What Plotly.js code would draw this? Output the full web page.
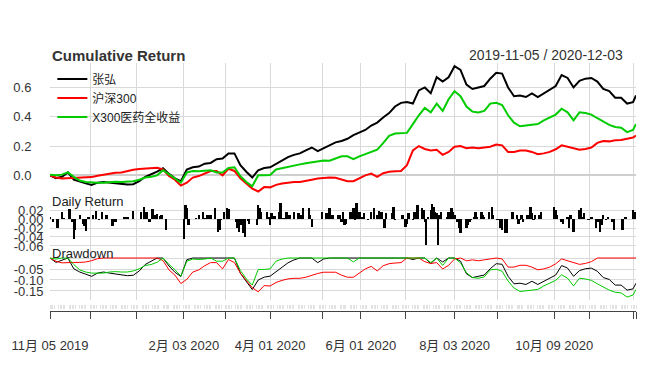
<!DOCTYPE html>
<html><head><meta charset="utf-8">
<script src="https://cdn.plot.ly/plotly-3.0.1.min.js"></script>
<style>html,body{margin:0;padding:0;background:#fff}#chart{width:651px;height:375px}</style>
</head><body><div id="chart"></div>
<script>
const startDate = '2019-11-05';
const endDate = '2020-12-03';
const sampleStepDays = 4;
const lastDay = 394;
const seriesNames = ['张弘', '沪深300', 'X300医药全收益'];
const seriesColors = ['#000000', '#ff0000', '#00cc00'];

// cumulative returns, sampled every 4 calendar days (last sample = 2020-12-03)
const cumZhangHong = [
  0.000, -0.020, -0.010, 0.020, -0.030, -0.045, -0.055, -0.065, -0.050, -0.045,
  -0.050, -0.055, -0.060, -0.062, -0.060, -0.040, -0.010, 0.005, 0.025, 0.048,
  0.010, -0.020, -0.040, 0.040, 0.055, 0.060, 0.080, 0.085, 0.110, 0.115,
  0.150, 0.150, 0.070, 0.025, -0.015, 0.035, 0.050, 0.055, 0.080, 0.100,
  0.125, 0.140, 0.150, 0.170, 0.190, 0.165, 0.185, 0.200, 0.225, 0.235,
  0.250, 0.275, 0.290, 0.310, 0.340, 0.360, 0.395, 0.425, 0.470, 0.495,
  0.500, 0.490, 0.580, 0.600, 0.560, 0.670, 0.640, 0.670, 0.745, 0.720,
  0.620, 0.590, 0.600, 0.610, 0.660, 0.700, 0.695, 0.600, 0.540, 0.545,
  0.535, 0.560, 0.535, 0.560, 0.590, 0.610, 0.685, 0.665, 0.600, 0.645,
  0.660, 0.665, 0.640, 0.590, 0.575, 0.530, 0.530, 0.490, 0.500, 0.545
];
const cumHS300 = [
  0.000, -0.015, -0.022, -0.020, -0.020, -0.020, -0.018, -0.012, -0.003, 0.005,
  0.012, 0.018, 0.020, 0.030, 0.038, 0.043, 0.045, 0.048, 0.052, 0.040,
  -0.005, -0.030, -0.070, -0.050, -0.015, -0.005, 0.015, 0.030, 0.030, 0.000,
  0.045, 0.030, -0.020, -0.055, -0.090, -0.110, -0.080, -0.082, -0.065, -0.055,
  -0.048, -0.045, -0.045, -0.040, -0.030, -0.022, -0.016, -0.015, -0.016, -0.030,
  -0.040, -0.040, -0.020, 0.000, 0.012, -0.010, 0.015, 0.025, 0.028, 0.030,
  0.070, 0.170, 0.200, 0.180, 0.170, 0.175, 0.140, 0.160, 0.195, 0.200,
  0.185, 0.190, 0.185, 0.190, 0.196, 0.210, 0.205, 0.160, 0.160, 0.170,
  0.170, 0.160, 0.145, 0.150, 0.160, 0.178, 0.205, 0.195, 0.185, 0.175,
  0.180, 0.190, 0.222, 0.235, 0.232, 0.240, 0.242, 0.250, 0.258, 0.272
];
const cumPharma = [
  0.005, 0.000, 0.005, 0.020, -0.010, -0.035, -0.045, -0.050, -0.050, -0.050,
  -0.045, -0.043, -0.045, -0.045, -0.040, -0.030, -0.015, -0.010, 0.000, 0.035,
  0.005, -0.020, -0.050, 0.020, 0.030, 0.028, 0.030, 0.035, 0.020, 0.020,
  0.050, 0.055, -0.005, -0.045, -0.075, 0.000, 0.000, 0.003, 0.040, 0.050,
  0.060, 0.070, 0.075, 0.082, 0.088, 0.093, 0.102, 0.100, 0.115, 0.130,
  0.130, 0.110, 0.130, 0.145, 0.155, 0.175, 0.220, 0.270, 0.285, 0.290,
  0.290, 0.350, 0.410, 0.460, 0.430, 0.490, 0.440, 0.520, 0.575, 0.540,
  0.470, 0.435, 0.430, 0.440, 0.490, 0.495, 0.480, 0.410, 0.360, 0.335,
  0.340, 0.345, 0.350, 0.375, 0.395, 0.415, 0.455, 0.430, 0.375, 0.430,
  0.425, 0.415, 0.390, 0.365, 0.345, 0.330, 0.325, 0.295, 0.310, 0.350
];

// daily returns of 张弘 (visible bars), day offset from start date
const retDay = [
  0, 2, 5, 8, 9, 13, 15, 16, 17, 20, 22, 23, 24, 26, 29, 31, 33, 35, 38, 42, 44, 48, 50, 52, 56, 61, 63, 65, 67, 69, 71, 72, 74, 75, 78, 90, 91, 92, 93,
  98, 100, 103, 104, 106, 107, 108, 111, 113, 114, 115, 117, 119, 120, 121, 125, 126, 127, 128, 130, 131, 133, 134, 139, 140, 141, 142, 146, 147, 148, 149, 151, 154, 155, 156, 157, 159, 161, 164, 165, 167, 168, 169, 170, 171, 174, 175, 176, 183, 184, 186, 188, 189, 190, 194,
  195, 196, 197, 198, 199, 202, 203, 204, 205, 206, 207, 208, 210, 211, 212, 214, 216, 217, 218, 220, 221, 223, 224, 225, 226, 229, 230, 231, 232, 236, 237, 239, 240, 241, 244, 245, 247, 248, 250, 251, 252, 253, 254, 256, 257, 258, 259, 260, 261, 262, 263, 265, 267, 268, 269, 270, 271, 272, 274, 275, 276, 280, 281, 282, 283, 285, 286, 287, 288, 290, 291,
  292, 293, 295, 297, 298, 301, 303, 304, 306, 307, 311, 312, 314, 315, 316, 317, 318, 321, 323, 324, 325, 326, 329, 330, 339, 340, 341, 342, 344, 345, 348, 349, 350, 352, 355, 356, 357, 358, 359, 362, 364, 367, 368, 370, 371, 372, 374, 375, 378, 379, 380, 383, 385, 387, 392, 393
];
const retVal = [
  0.005, -0.006, -0.021, 0.016, 0.003, 0.022, -0.006, -0.044, -0.024, 0.009, -0.010, -0.015, -0.027, 0.005, 0.010, 0.018, -0.002, 0.016, 0.010, -0.015, -0.006, 0.001, 0.005, 0.004, 0.018, 0.016, 0.027, 0.016, -0.006, 0.022, 0.009, 0.012, 0.007, 0.010, -0.025, -0.044, 0.031, 0.024, -0.013,
  0.003, 0.009, 0.016, 0.003, 0.010, 0.001, 0.009, 0.024, -0.028, -0.024, -0.002, 0.016, 0.025, 0.022, 0.001, -0.006, -0.021, -0.028, -0.013, -0.032, -0.039, -0.005, -0.010, -0.013, 0.031, 0.024, 0.015, 0.015, 0.005, -0.013, 0.013, 0.007, 0.016, 0.035, 0.001, 0.003, 0.016, 0.010, 0.016, 0.001, 0.013, 0.001, 0.009, 0.024, -0.001, 0.024, 0.009, -0.017, 0.016, 0.001, 0.013, 0.024, 0.001, 0.009, 0.009,
  0.010, -0.006, 0.016, -0.013, -0.010, 0.016, 0.001, 0.024, -0.002, 0.035, 0.001, 0.016, 0.005, 0.013, 0.001, -0.002, 0.016, 0.001, 0.024, 0.009, 0.018, 0.016, 0.001, -0.021, 0.013, 0.001, 0.013, 0.027, -0.002, 0.001, 0.009, -0.017, -0.010, 0.013, -0.002, 0.016, 0.031, 0.001, 0.024, 0.020, -0.006, -0.058, 0.005, 0.020, 0.033, 0.027, 0.016, 0.013, -0.058, 0.009, 0.016, 0.001, 0.005, 0.016, 0.001, 0.024, 0.016, 0.009, -0.006, -0.021, -0.032, -0.021, -0.013, -0.006, -0.002, 0.005, 0.016, 0.005, 0.001, 0.016, 0.009,
  0.005, 0.001, 0.016, 0.027, 0.009, -0.002, -0.021, -0.024, -0.032, -0.032, 0.016, 0.001, 0.009, -0.010, -0.002, 0.009, -0.006, 0.009, 0.027, 0.013, -0.002, 0.009, 0.009, 0.016, 0.027, 0.020, 0.009, 0.001, -0.006, -0.010, 0.005, -0.021, 0.009, -0.028, 0.001, 0.020, 0.024, 0.005, 0.013, -0.002, 0.005, -0.021, -0.006, -0.028, -0.013, 0.009, -0.002, 0.005, -0.006, -0.024, 0.001, 0.001, -0.024, 0.005, 0.020, 0.016
];

const tickDates = ['2019-11-05','2019-12-02','2020-01-02','2020-02-03','2020-03-02','2020-04-01','2020-05-06','2020-06-01','2020-07-01','2020-08-03','2020-09-01','2020-10-09','2020-11-02','2020-12-01','2020-12-03'];
const tickLabels = ['11月 05 2019','','','2月 03 2020','','4月 01 2020','','6月 01 2020','','8月 03 2020','','10月 09 2020','','',''];

const cumTicks = [0, 0.2, 0.4, 0.6];
const cumTickText = ['0.0', '0.2', '0.4', '0.6'];
const retTicks = [0.02, 0, -0.02, -0.04, -0.06];
const retTickText = ['0.02', '0.00', '-0.02', '-0.04', '-0.06'];
const ddTicks = [0, -0.05, -0.10, -0.15];
const ddTickText = ['', '-0.05', '-0.10', '-0.15'];

// ---------- helpers ----------
const DAY = 86400000;
const sp = startDate.split('-').map(Number);
const base = Date.UTC(sp[0], sp[1] - 1, sp[2]);
function dayToDate(n) { return new Date(base + n * DAY).toISOString().slice(0, 10); }
function drawdown(arr) { let peak = 1; return arr.map(v => { const w = 1 + v; if (w > peak) peak = w; return w / peak - 1; }); }

const cumDates = cumZhangHong.map((_, i) => dayToDate(Math.min(i * sampleStepDays, lastDay)));
const retDates = retDay.map(dayToDate);
const weekdays = [];
for (let n = 0; n <= lastDay; n++) { const dw = new Date(base + n * DAY).getUTCDay(); if (dw !== 0 && dw !== 6) weekdays.push(dayToDate(n)); }

const cumSeries = [cumZhangHong, cumHS300, cumPharma];
const FONT = "'Liberation Sans', Arial, 'Noto Sans CJK SC', sans-serif";
const GRID = '#d9d9d9';

const traces = [];
cumSeries.forEach((s, i) => traces.push({
  type: 'scatter', mode: 'lines', x: cumDates, y: s, xaxis: 'x', yaxis: 'y',
  name: seriesNames[i], line: { color: seriesColors[i], width: 2 }, hoverinfo: 'skip'
}));
traces.push({
  type: 'bar', x: retDates, y: retVal, xaxis: 'x', yaxis: 'y2', width: DAY * 1.6,
  marker: { color: '#000000', line: { width: 0 } }, showlegend: false, hoverinfo: 'skip'
});
cumSeries.forEach((s, i) => traces.push({
  type: 'scatter', mode: 'lines', x: cumDates, y: drawdown(s), xaxis: 'x', yaxis: 'y3',
  line: { color: seriesColors[i], width: 1 }, showlegend: false, hoverinfo: 'skip'
}));
traces.push({ type: 'scatter', mode: 'lines', x: [], y: [], xaxis: 'x2', yaxis: 'y3', showlegend: false, hoverinfo: 'skip' });
traces.push({ type: 'scatter', mode: 'lines', x: [], y: [], xaxis: 'x3', yaxis: 'y3', showlegend: false, hoverinfo: 'skip' });

const yCommon = { showline: false, zeroline: false, showgrid: true, gridcolor: GRID, gridwidth: 1,
  ticks: 'outside', tickcolor: 'rgba(0,0,0,0)', tickfont: { size: 13, color: '#333333' }, anchor: 'x', fixedrange: true };

const layout = {
  width: 651, height: 375,
  margin: { l: 50, r: 15, t: 0, b: 0 },
  paper_bgcolor: '#ffffff', plot_bgcolor: '#ffffff',
  font: { family: FONT, size: 12, color: '#333333' },
  showlegend: true, hovermode: false, bargap: 0,
  legend: { x: 0.004, y: 0.828, xanchor: 'left', yanchor: 'top', bgcolor: 'rgba(0,0,0,0)',
    font: { size: 12, color: '#222222' }, itemwidth: 30, traceorder: 'normal' },
  // main date axis: carries the vertical grid through all three panels
  xaxis: { type: 'date', range: [startDate, endDate], anchor: 'y3',
    tickmode: 'array', tickvals: tickDates, ticks: '', showticklabels: false,
    showline: false, showgrid: true, gridcolor: GRID, gridwidth: 1, zeroline: false, fixedrange: true },
  // visible axis line with month ticks and labels
  xaxis2: { type: 'date', range: [startDate, endDate], overlaying: 'x', anchor: 'free', position: 0.1707,
    tickmode: 'array', tickvals: tickDates, ticktext: tickLabels,
    ticks: 'outside', ticklen: 7, tickcolor: '#444444', tickwidth: 1,
    showline: true, linecolor: '#444444', linewidth: 1.5,
    showgrid: false, zeroline: false,
    tickfont: { size: 13, color: '#333333' }, ticklabelstandoff: 15, fixedrange: true },
  // light per-day marks
  xaxis3: { type: 'date', range: [startDate, endDate], overlaying: 'x', anchor: 'free', position: 0.1893,
    tickmode: 'array', tickvals: weekdays, ticks: 'outside', ticklen: 4, tickcolor: '#e3e3e3', tickwidth: 1,
    showticklabels: false, showgrid: false, showline: false, zeroline: false, fixedrange: true },
  yaxis: Object.assign({}, yCommon, { domain: [0.4773, 0.832], range: [-0.141, 0.767],
    tickmode: 'array', tickvals: cumTicks, ticktext: cumTickText, ticklen: 15,
    zeroline: true, zerolinecolor: '#cfcfcf', zerolinewidth: 2 }),
  yaxis2: Object.assign({}, yCommon, { domain: [0.3307, 0.4773], range: [-0.0711, 0.0511],
    tickmode: 'array', tickvals: retTicks, ticktext: retTickText, ticklen: 3 }),
  yaxis3: Object.assign({}, yCommon, { domain: [0.2, 0.3307], range: [-0.191, 0.032],
    tickmode: 'array', tickvals: ddTicks, ticktext: ddTickText, ticklen: 3 }),
  annotations: [
    { text: '<b>Cumulative Return</b>', xref: 'paper', yref: 'paper', x: 0, y: 0.8533, xanchor: 'left', yanchor: 'middle',
      showarrow: false, font: { size: 15, color: '#333333' } },
    { text: startDate + ' / ' + endDate, xref: 'paper', yref: 'paper', x: 0.9812, y: 0.8533, xanchor: 'right', yanchor: 'middle',
      showarrow: false, font: { size: 14, color: '#333333' } },
    { text: 'Daily Return', xref: 'paper', yref: 'paper', x: 0, y: 0.464, xanchor: 'left', yanchor: 'middle',
      showarrow: false, font: { size: 13, color: '#222222' } },
    { text: 'Drawdown', xref: 'paper', yref: 'paper', x: 0, y: 0.3253, xanchor: 'left', yanchor: 'middle',
      showarrow: false, font: { size: 13, color: '#222222' } }
  ]
};

Plotly.newPlot('chart', traces, layout, { staticPlot: true, displayModeBar: false });
</script>
</body></html>
